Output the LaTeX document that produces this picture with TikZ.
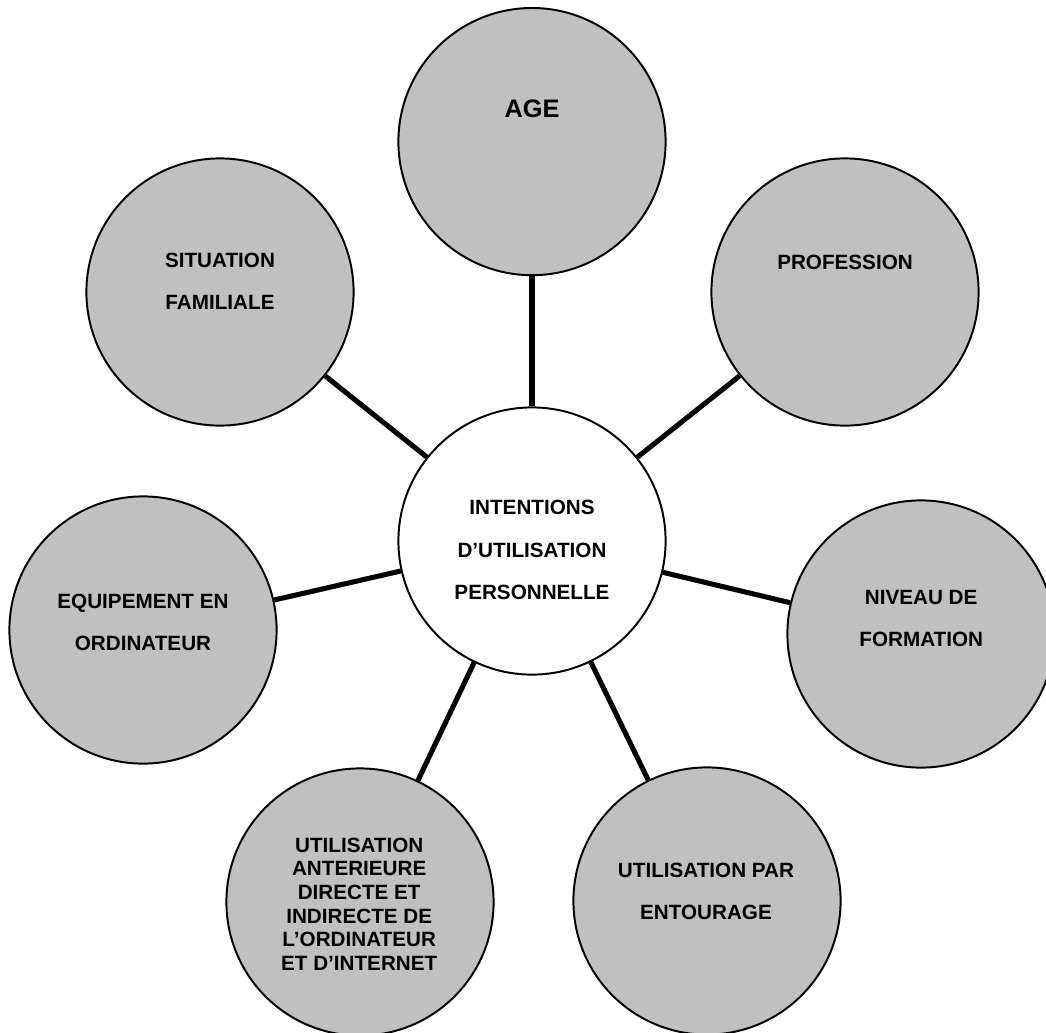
\documentclass[tikz,border=0pt]{standalone}
\usepackage{fontspec}
\setmainfont{Liberation Sans}
\usetikzlibrary{positioning}
\definecolor{bubgray}{RGB}{192,192,192}

\begin{document}
\begin{tikzpicture}
[
	bub/.style={circle,draw,fill=bubgray,line width=1.4pt,minimum size=6.68cm,inner sep=0pt},
	hub/.style={circle,draw,fill=white,line width=1.4pt,minimum size=6.68cm,inner sep=0pt},
	txt/.style={align=center,font=\fontsize{14.7}{30}\selectfont\bfseries},
	lnk/.style={line width=3.6pt}
]
\useasboundingbox (0,0) rectangle (26.15,-25.8);

\node[hub] (hub) at (13.3,-13.525) {};

\node[bub] (age) at (13.3,-3.54) {};
\node[bub] (prof) at (21.125,-7.3) {};
\node[bub] (famil) at (5.5,-7.3) {};
\node[bub] (equip) at (3.575,-15.75) {};
\node[bub] (niveau) at (23.025,-15.85) {};
\node[bub] (entour) at (17.675,-22.525) {};
\node[bub] (anter) at (9.0,-22.55) {};

\node[txt] (hubt) at (13.3,-13.75) {INTENTIONS\\D’UTILISATION\\PERSONNELLE};
\node[txt,font=\fontsize{18}{30}\selectfont\bfseries] (aget) at (13.3,-2.71) {AGE};
\node[txt] (proft) at (21.125,-6.55) {PROFESSION};
\node[txt] (familt) at (5.5,-7.04) {SITUATION\\FAMILIALE};
\node[txt] (equipt) at (3.575,-15.56) {EQUIPEMENT EN\\ORDINATEUR};
\node[txt] (niveaut) at (23.03,-15.46) {NIVEAU DE\\FORMATION};
\node[txt] (entourt) at (17.65,-22.275) {UTILISATION PAR\\ENTOURAGE};
\node[txt,font=\fontsize{14.7}{16.8}\selectfont\bfseries] (antert) at (8.98,-22.6)
	{UTILISATION\\ANTERIEURE\\DIRECTE ET\\INDIRECTE DE\\L’ORDINATEUR\\ET D’INTERNET};

\draw[lnk]	(age)		--	(hub);
\draw[lnk]	(prof)		--	(hub);
\draw[lnk]	(famil)		--	(hub);
\draw[lnk]	(equip)		--	(hub);
\draw[lnk]	(niveau)	--	(hub);
\draw[lnk]	(entour)	--	(hub);
\draw[lnk]	(anter)		--	(hub);

\end{tikzpicture}
\end{document}
